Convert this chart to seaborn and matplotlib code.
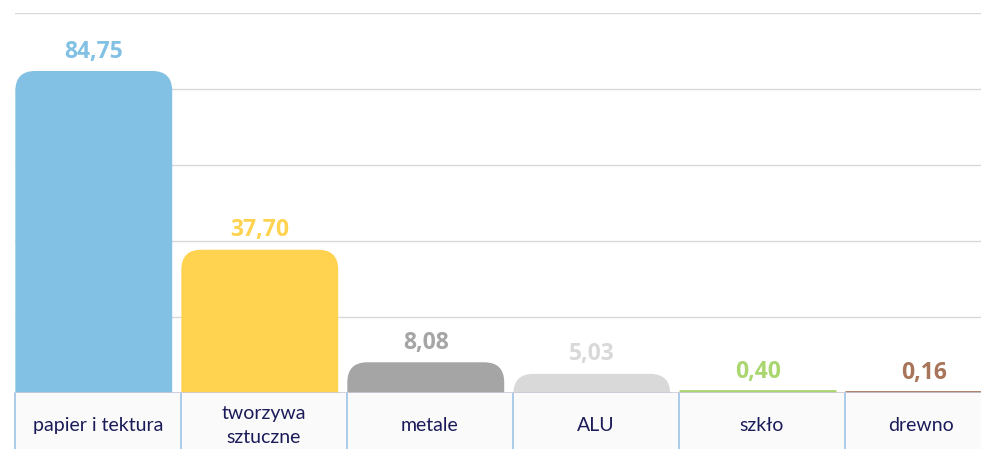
import matplotlib
matplotlib.use("Agg")
import matplotlib.pyplot as plt
from matplotlib.patches import FancyBboxPatch, Rectangle
from matplotlib.transforms import blended_transform_factory
import seaborn as sns

# data
categories = ["papier i tektura", "tworzywa\nsztuczne", "metale", "ALU", "szkło", "drewno"]
values = [84.75, 37.70, 8.08, 5.03, 0.40, 0.16]
value_labels = ["84,75", "37,70", "8,08", "5,03", "0,40", "0,16"]
colors = ["#82C1E4", "#FFD24F", "#A5A5A5", "#D9D9D9", "#A9D66F", "#A8745A"]

sns.set_style("white")
plt.rcParams['font.family'] = ['Lato', 'DejaVu Sans']

W, H = 981, 449
fig = plt.figure(figsize=(W / 100, H / 100), dpi=100)
ax = fig.add_axes([15 / W, 56 / H, 996 / W, 380 / H])

bar_w = 0.945
sns.barplot(x=list(range(len(values))), y=values, hue=list(range(len(values))),
            palette=colors, legend=False, width=bar_w, ax=ax, native_scale=True)

ax.set_xlim(-0.5, 5.5)
ax.set_ylim(0, 100)
ax.set_yticks([20, 40, 60, 80, 100])
ax.grid(axis="y", color="#D9D9D9", linewidth=1)
ax.set_axisbelow(True)
for s in ax.spines.values():
    s.set_visible(False)
ax.set_xticks([])
ax.set_yticklabels([])
ax.tick_params(left=False, bottom=False)
ax.set_xlabel("")
ax.set_ylabel("")

# replace bars with rounded-top versions, aligned to the left cell border
px_x = 6 / 996          # x data units per pixel
px_y = 100 / 380        # y data units per pixel
aspect = px_y / px_x
r = 20 * px_x
shift = (0.5 - bar_w / 2) - 0.002
centers = []
for p, c in zip(list(ax.patches), colors):
    x0, w, h = p.get_x() - shift, p.get_width(), p.get_height()
    centers.append(x0 + w / 2)
    p.remove()
    bottom = -r * aspect
    if h < 1:
        ax.plot([x0, x0 + w], [h, h], color=c, lw=2, solid_capstyle="butt", zorder=3)
        continue
    box = FancyBboxPatch((x0, bottom), w, h - bottom,
                         boxstyle=f"round,pad=0,rounding_size={r}",
                         mutation_aspect=aspect, facecolor=c, edgecolor="none",
                         zorder=3, clip_on=True)
    ax.add_patch(box)

for xc, v, lab, c in zip(centers, values, value_labels, colors):
    ax.annotate(lab, (xc, v), xytext=(0, 14), textcoords="offset points",
                ha="center", va="center", fontsize=16.5, fontweight="bold", color=c,
                family=["Open Sans", "DejaVu Sans"])

# baseline
ax.axhline(0, color="#C9C9D9", lw=1.2, zorder=4)

# category table below the axis
tr = blended_transform_factory(ax.transData, ax.transAxes)
cell_h = 56 / 380
for i, cat in enumerate(categories):
    ax.add_patch(Rectangle((i - 0.5, -cell_h), 1, cell_h, transform=tr,
                           facecolor="#FAFAFA", edgecolor="none", clip_on=False, zorder=1))
    ax.plot([i - 0.5, i - 0.5], [-cell_h, 0], transform=tr, color="#9DC3E6",
            lw=1.2, clip_on=False, zorder=2)
    xt = i - 0.04 if i == len(categories) - 1 else i
    ax.text(xt, -cell_h / 2 - 0.012, cat, transform=tr,
            ha="center", va="center", fontsize=14, color="#1B1B5A",
            linespacing=1.5)

fig.savefig("out.png", dpi=100)
